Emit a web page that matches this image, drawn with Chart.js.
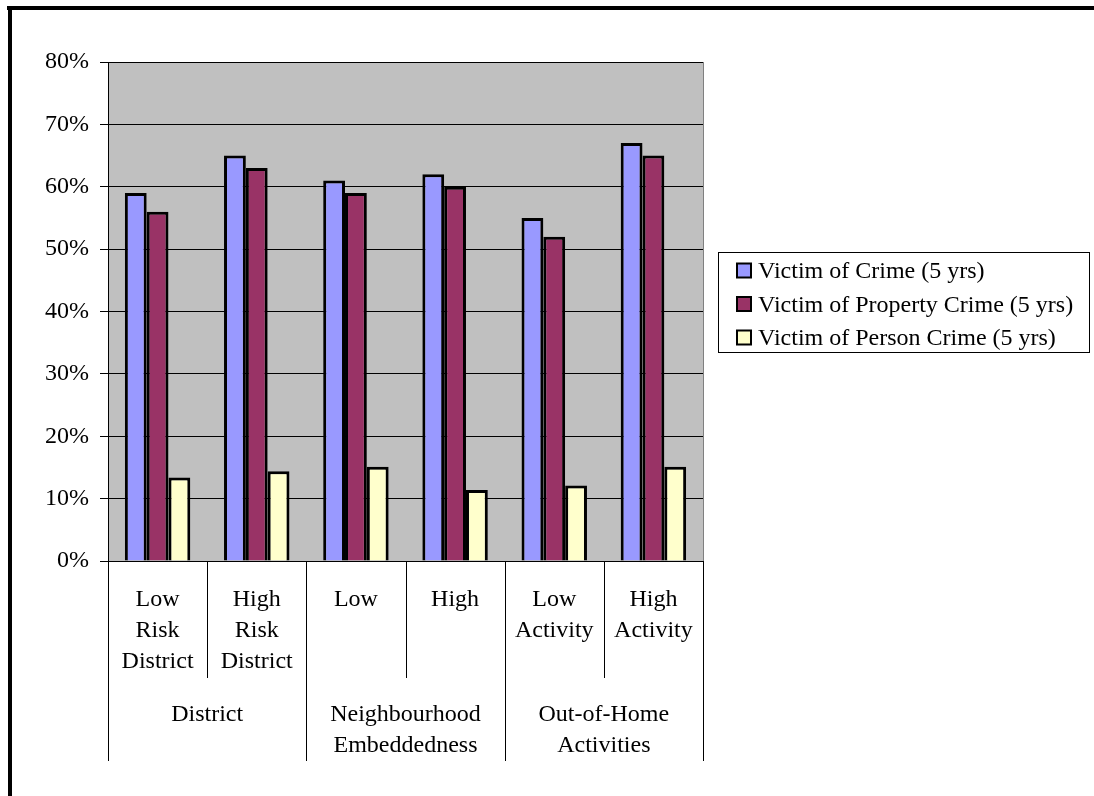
<!DOCTYPE html>
<html>
<head>
<meta charset="utf-8">
<script src="https://cdn.jsdelivr.net/npm/chart.js@4.4.1/dist/chart.umd.min.js"></script>
<style>
  html, body { margin: 0; padding: 0; background: #fff; }
  canvas { display: block; }
</style>
</head>
<body>
<canvas id="chart" width="1094" height="796"></canvas>
<script>
// categories (bottom level of the x axis)
const categories = [
  ["Low", "Risk", "District"],
  ["High", "Risk", "District"],
  "Low",
  "High",
  ["Low", "Activity"],
  ["High", "Activity"],
];

// upper level of the x axis: label lines and how many categories each spans
const groupLabels = [
  ["District"],
  ["Neighbourhood", "Embeddedness"],
  ["Out-of-Home", "Activities"],
];
const groupSpans = [2, 2, 2];

// series values (percent)
const seriesNames = [
  "Victim of Crime (5 yrs)",
  "Victim of Property Crime (5 yrs)",
  "Victim of Person Crime (5 yrs)",
];
const victimCrime = [59, 65, 61, 62, 55, 67];
const propertyCrime = [56, 63, 59, 60, 52, 65];
const personCrime = [13.4, 14.4, 15.1, 11.4, 12.1, 15.1];

const seriesColors = ["#9999FF", "#993366", "#FFFFCC"];

const FONT = "Liberation Serif";
Chart.defaults.color = "#000";
Chart.defaults.font.family = FONT;
Chart.defaults.font.size = 24;

// grey plot area behind the bars
const plotBackground = {
  id: "plotBackground",
  beforeDraw(chart) {
    const { ctx, chartArea: a } = chart;
    ctx.save();
    ctx.fillStyle = "#C0C0C0";
    ctx.fillRect(a.left, a.top, a.right - a.left, a.bottom - a.top);
    ctx.restore();
  },
};

// second level of the category axis + the outer frame + boxed legend
const extras = {
  id: "extras",
  afterDraw(chart) {
    const { ctx, chartArea: a } = chart;
    const n = categories.length;
    const step = (a.right - a.left) / n;
    ctx.save();

    // right edge of plot area
    ctx.strokeStyle = "#808080";
    ctx.lineWidth = 1;
    ctx.beginPath();
    ctx.moveTo(Math.round(a.right) + 0.5, a.top);
    ctx.lineTo(Math.round(a.right) + 0.5, a.bottom);
    ctx.stroke();

    // separators between categories / groups
    const groupEnds = [0];
    groupSpans.reduce((s, v) => { groupEnds.push(s + v); return s + v; }, 0);
    ctx.strokeStyle = "#000";
    for (let i = 0; i <= n; i++) {
      const px = Math.round(a.left + i * step) + 0.5;
      const isGroup = groupEnds.includes(i);
      ctx.beginPath();
      ctx.moveTo(px, a.bottom);
      ctx.lineTo(px, isGroup ? 761 : 678);
      ctx.stroke();
    }

    // group labels
    ctx.fillStyle = "#000";
    ctx.font = "24px '" + FONT + "'";
    ctx.textAlign = "center";
    ctx.textBaseline = "middle";
    let start = 0;
    groupLabels.forEach((lines, g) => {
      const cx = a.left + (start + groupSpans[g] / 2) * step;
      lines.forEach((t, k) => ctx.fillText(t, cx, 715 + k * 31));
      start += groupSpans[g];
    });

    // legend box
    ctx.lineWidth = 1;
    ctx.strokeRect(718.5, 252.5, 371, 100);
    ctx.textAlign = "left";
    chart.data.datasets.forEach((ds, i) => {
      const cy = 270.5 + i * 33.5;
      ctx.fillStyle = ds.backgroundColor;
      ctx.fillRect(737, cy - 7, 14, 14);
      ctx.lineWidth = 2;
      ctx.strokeStyle = "#000";
      ctx.strokeRect(737, cy - 7, 14, 14);
      ctx.fillStyle = "#000";
      ctx.fillText(ds.label, 758, cy + 1.5);
    });

    // outer frame (top and left edges)
    ctx.fillStyle = "#000";
    ctx.fillRect(7, 6, 1094 - 7, 4);
    ctx.fillRect(8, 6, 4, 796 - 6);
    ctx.restore();
  },
};

new Chart(document.getElementById("chart"), {
  type: "bar",
  data: {
    labels: categories,
    datasets: [
      { label: seriesNames[0], data: victimCrime, backgroundColor: seriesColors[0] },
      { label: seriesNames[1], data: propertyCrime, backgroundColor: seriesColors[1] },
      { label: seriesNames[2], data: personCrime, backgroundColor: seriesColors[2] },
    ],
  },
  options: {
    responsive: false,
    animation: false,
    devicePixelRatio: 1,
    layout: { padding: { left: 8, right: 391, top: 62, bottom: 0 } },
    datasets: {
      bar: {
        borderColor: "#000",
        borderWidth: 3,
        categoryPercentage: 0.66,
        barPercentage: 1,
      },
    },
    plugins: {
      legend: { display: false },
      tooltip: { enabled: false },
    },
    scales: {
      x: {
        grid: { display: false },
        border: { display: true, color: "#000", width: 1 },
        ticks: {
          padding: 15,
          maxRotation: 0,
          autoSkip: false,
          font: { size: 24, lineHeight: 1.3 },
        },
        afterFit(scale) { scale.height = 235; },
      },
      y: {
        min: 0,
        max: 80,
        ticks: {
          stepSize: 10,
          padding: 11,
          callback: (v) => v + "%",
        },
        grid: { color: "#000", lineWidth: 1, tickLength: 8 },
        border: { display: true, color: "#000", width: 1 },
        afterFit(scale) { scale.width = 100; },
      },
    },
  },
  plugins: [plotBackground, extras],
});
</script>
</body>
</html>
